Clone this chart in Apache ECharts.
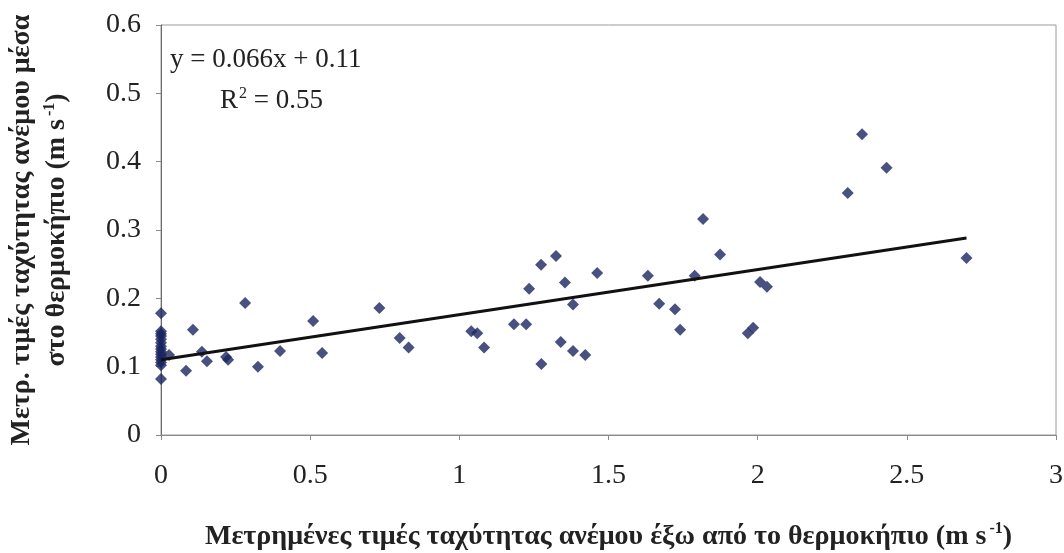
<!DOCTYPE html>
<html>
<head>
<meta charset="utf-8">
<script src="https://cdn.jsdelivr.net/npm/echarts@6/dist/echarts.min.js"></script>
<style>
  html, body { margin: 0; padding: 0; background: #fff; }
  #chart { width: 1064px; height: 553px; }
</style>
</head>
<body>
<div id="chart"></div>
<script>
// wind speed outside (x) vs inside (y) the greenhouse, m/s
var outsideX = [
  0, 0, 0, 0, 0, 0, 0, 0, 0, 0, 0, 0, 0, 0, 0,
  0.027, 0.084, 0.107, 0.137, 0.154, 0.218, 0.225, 0.282, 0.325, 0.399,
  0.51, 0.54, 0.732, 0.80, 0.83, 1.04, 1.06, 1.083, 1.183, 1.224,
  1.234, 1.275, 1.274, 1.324, 1.34, 1.354, 1.381, 1.381, 1.422, 1.462,
  1.632, 1.670, 1.723, 1.740, 1.789, 1.817, 1.874, 1.967, 1.985, 2.008,
  2.031, 2.302, 2.350, 2.432, 2.70
]
var insideY = [
  0.178, 0.152, 0.148, 0.145, 0.14, 0.135, 0.13, 0.126, 0.122, 0.118, 0.114, 0.11, 0.106, 0.102, 0.082,
  0.117, 0.094, 0.154, 0.122, 0.108, 0.114, 0.110, 0.193, 0.100, 0.123,
  0.167, 0.120, 0.186, 0.142, 0.128, 0.152, 0.149, 0.128, 0.162, 0.162,
  0.214, 0.104, 0.249, 0.262, 0.136, 0.223, 0.191, 0.123, 0.117, 0.237,
  0.233, 0.192, 0.184, 0.154, 0.233, 0.316, 0.264, 0.149, 0.157, 0.224,
  0.217, 0.354, 0.440, 0.391, 0.259
]
// linear trend: y = 0.066x + 0.11
var slope = 0.066
var intercept = 0.11
var trendX = [0, 2.70]

var points = outsideX.map(function (x, i) { return [x, insideY[i]] })
var trend = trendX.map(function (x) { return [x, slope * x + intercept] })

var font = '"Liberation Serif", "DejaVu Serif", serif'

var chart = echarts.init(document.getElementById('chart'))
chart.setOption({
  animation: false,
  backgroundColor: '#fff',
  grid: {
    left: 161, right: 8, top: 25, bottom: 118,
    outerBoundsMode: 'none',
    show: true, borderColor: '#9a9a9a', borderWidth: 1
  },
  xAxis: {
    type: 'value', min: 0, max: 3, interval: 0.5,
    axisLine: { show: true, lineStyle: { color: '#8a8a8a', width: 1 } },
    axisTick: { show: true, length: 5, inside: false, lineStyle: { color: '#8a8a8a' } },
    splitLine: { show: false },
    axisLabel: { margin: 27, color: '#222', fontFamily: font, fontSize: 28 },
    name: '{b|Μετρημένες τιμές ταχύτητας ανέμου έξω από το θερμοκήπιο (m s}{sup|-1}{b|)}',
    nameLocation: 'middle',
    nameGap: 86,
    nameMoveOverlap: false,
    nameTextStyle: {
      rich: {
        b: { fontFamily: font, fontSize: 28, fontWeight: 'bold', color: '#222' },
        sup: { fontFamily: font, fontSize: 16, fontWeight: 'bold', color: '#222', padding: [0, 0, 16, 3] }
      }
    }
  },
  yAxis: {
    type: 'value', min: 0, max: 0.6, interval: 0.1,
    axisLine: { show: true, lineStyle: { color: '#6a6a6a', width: 1 } },
    axisTick: { show: true, length: 5, inside: false, lineStyle: { color: '#8a8a8a' } },
    splitLine: { show: false },
    axisLabel: { margin: 20, color: '#222', fontFamily: font, fontSize: 28 },
    name: '{b|Μετρ. τιμές ταχύτητας ανέμου μέσα}\n{b|στο θερμοκήπιο (m s}{sup|-1}{b|)}',
    nameLocation: 'middle',
    nameRotate: 90,
    nameGap: 87,
    nameMoveOverlap: false,
    nameTextStyle: {
      rich: {
        b: { fontFamily: font, fontSize: 28, fontWeight: 'bold', color: '#222', lineHeight: 35 },
        sup: { fontFamily: font, fontSize: 16, fontWeight: 'bold', color: '#222', padding: [0, 0, 14, 3] }
      }
    }
  },
  graphic: [
    {
      type: 'text', left: 170, top: 46,
      style: { text: 'y = 0.066x + 0.11', font: '27px ' + font, fill: '#222' }
    },
    {
      type: 'text', left: 220, top: 86,
      style: {
        text: '{a|R}{s|2}{a| = 0.55}',
        rich: {
          a: { fontFamily: font, fontSize: 27, fill: '#222' },
          s: { fontFamily: font, fontSize: 16, fill: '#222', padding: [0, 0, 14, 1] }
        }
      }
    }
  ],
  series: [
    {
      type: 'scatter',
      data: points,
      symbol: 'diamond',
      symbolSize: 12,
      itemStyle: { color: '#1a2660' },
      z: 2
    },
    {
      type: 'line',
      data: trend,
      showSymbol: false,
      symbol: 'none',
      lineStyle: { color: '#111', width: 3 },
      z: 3
    }
  ]
})
</script>
</body>
</html>
